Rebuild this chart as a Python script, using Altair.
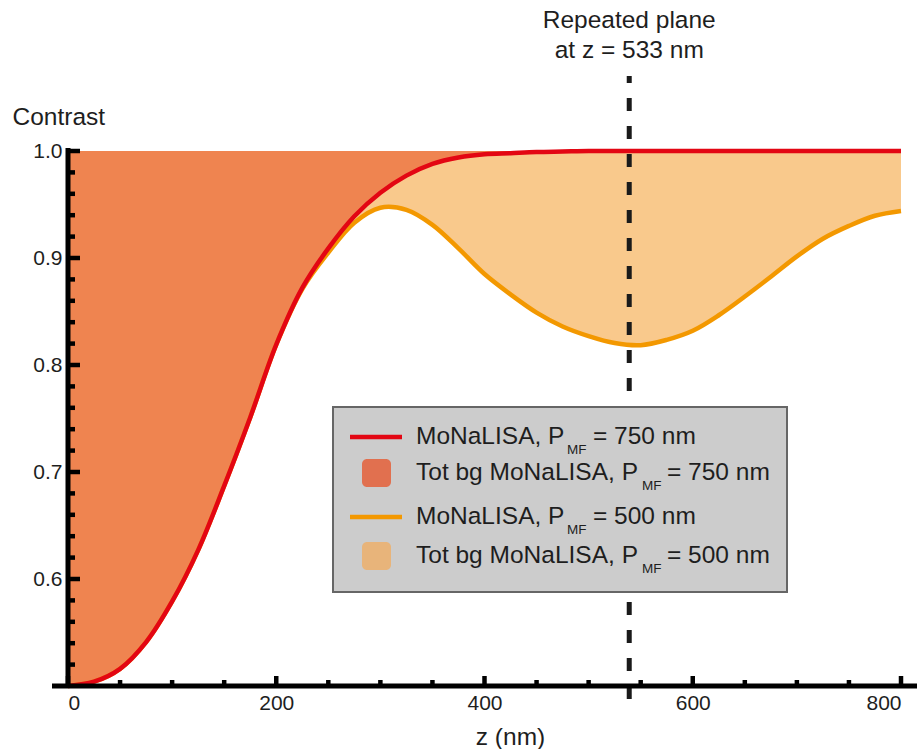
import altair as alt
import pandas as pd

# ---------------- data ----------------
z_nm = [0, 25, 50, 75, 100, 125, 150, 175, 200, 225, 250, 275, 300, 325, 350,
        375, 400, 425, 450, 475, 500, 525, 550, 575, 600, 625, 650, 675, 700,
        725, 750, 775, 800]
contrast_750 = [0.500, 0.504, 0.516, 0.541, 0.579, 0.627, 0.687, 0.751, 0.819,
                0.872, 0.909, 0.939, 0.961, 0.977, 0.988, 0.994, 0.997, 0.998,
                0.999, 0.9995, 1.0, 1.0, 1.0, 1.0, 1.0, 1.0, 1.0, 1.0, 1.0,
                1.0, 1.0, 1.0, 1.0]
contrast_500 = [0.500, 0.504, 0.516, 0.541, 0.579, 0.627, 0.687, 0.751, 0.819,
                0.871, 0.905, 0.933, 0.947, 0.945, 0.931, 0.909, 0.885, 0.866,
                0.849, 0.836, 0.827, 0.8205, 0.8185, 0.8235, 0.832, 0.8465,
                0.864, 0.8825, 0.9015, 0.918, 0.930, 0.9395, 0.944]

x_major_ticks = [0, 200, 400, 600, 800]
x_minor_ticks = [50, 100, 150, 250, 300, 350, 450, 500, 550, 650, 700, 750]
y_major_ticks = [0.6, 0.7, 0.8, 0.9, 1.0]
y_minor_ticks = [0.52, 0.54, 0.56, 0.58, 0.62, 0.64, 0.66, 0.68, 0.72, 0.74,
                 0.76, 0.78, 0.82, 0.84, 0.86, 0.88, 0.92, 0.94, 0.96, 0.98]

plane_z = [539]
plane_text = ["Repeated plane", "at z = 533 nm"]

legend_main = ["MoNaLISA, P", "Tot bg MoNaLISA, P", "MoNaLISA, P", "Tot bg MoNaLISA, P"]
legend_sub = ["MF", "MF", "MF", "MF"]
legend_tail = ["= 750 nm", "= 750 nm", "= 500 nm", "= 500 nm"]

# ---------------- styling ----------------
W, H = 833, 535
FONT = "Liberation Sans"
TXT = "#1e1e1e"
RED = "#E30613"
ORANGE = "#F39800"
DARK_FILL = "#EF8450"
LIGHT_FILL = "#F9C98C"

df = pd.DataFrame({"z": z_nm, "c750": contrast_750, "c500": contrast_500})
xs = alt.Scale(domain=[0, 800], nice=False)
ys = alt.Scale(domain=[0.5, 1.0], nice=False, zero=False)
one = alt.Data(values=[{}])

x_axis = alt.Axis(values=x_major_ticks, domain=False, ticks=False, tickSize=0,
                  grid=False, labelFontSize=21, labelFont=FONT, labelColor=TXT,
                  labelPadding=17, labelBaseline="middle",
                  title="z (nm)", titleFont=FONT, titleFontSize=24.5,
                  titleFontWeight="normal", titleColor=TXT,
                  titleX=442, titleY=51, titleAlign="center",
                  titleBaseline="middle", titleAnchor="middle")
y_axis = alt.Axis(values=y_major_ticks, format=".1f", domain=False, ticks=False,
                  tickSize=0, grid=False, labelFontSize=21, labelFont=FONT,
                  labelColor=TXT, labelPadding=6, labelBaseline="middle",
                  title="Contrast", titleFont=FONT, titleFontSize=24.5,
                  titleFontWeight="normal", titleColor=TXT, titleAngle=0,
                  titleX=-56, titleY=-34, titleAlign="left",
                  titleBaseline="middle")


def X(field):
    return alt.X(field, scale=xs, axis=x_axis)


def Y(field):
    return alt.Y(field, scale=ys, axis=y_axis)


base = alt.Chart(df)
light = base.mark_area(color=LIGHT_FILL, interpolate="catmull-rom").encode(
    x=X("z:Q"), y=Y("c500:Q"), y2=alt.datum(1.0))
dark = base.mark_area(color=DARK_FILL, interpolate="catmull-rom").encode(
    x=X("z:Q"), y=Y("c750:Q"), y2=alt.datum(1.0))
line500 = base.mark_line(color=ORANGE, strokeWidth=4.5, interpolate="catmull-rom").encode(
    x=X("z:Q"), y=Y("c500:Q"))
line750 = base.mark_line(color=RED, strokeWidth=4.5, interpolate="catmull-rom").encode(
    x=X("z:Q"), y=Y("c750:Q"))

plane_df = pd.DataFrame({"z": plane_z})
plane = alt.Chart(plane_df).mark_rule(color="#1A1A1A", strokeWidth=5,
                                      strokeDash=[13, 15], strokeDashOffset=6).encode(
    x=X("z:Q"), y=alt.value(-75), y2=alt.value(H + 24))
plane_lbl1 = alt.Chart(plane_df).mark_text(text=plane_text[0], font=FONT, fontSize=24.5,
                                           color=TXT, align="center", baseline="middle").encode(
    x=X("z:Q"), y=alt.value(-130))
plane_lbl2 = alt.Chart(plane_df).mark_text(text=plane_text[1], font=FONT, fontSize=24.5,
                                           color=TXT, align="center", baseline="middle").encode(
    x=X("z:Q"), y=alt.value(-100))

# axis lines and inward ticks
x_axis_line = alt.Chart(one).mark_rule(color="black", strokeWidth=5).encode(
    x=alt.value(-16), x2=alt.value(W + 16), y=alt.value(H))
y_axis_line = alt.Chart(one).mark_rule(color="black", strokeWidth=5).encode(
    y=alt.value(-3), y2=alt.value(H), x=alt.value(0))
xmaj = alt.Chart(pd.DataFrame({"z": x_major_ticks})).mark_rule(color="black", strokeWidth=4.5).encode(
    x=X("z:Q"), y=alt.value(H), y2=alt.value(H - 10))
xmin = alt.Chart(pd.DataFrame({"z": x_minor_ticks})).mark_rule(color="black", strokeWidth=4.5).encode(
    x=X("z:Q"), y=alt.value(H), y2=alt.value(H - 6))
ymaj = alt.Chart(pd.DataFrame({"c500": y_major_ticks})).mark_rule(color="black", strokeWidth=4.5).encode(
    y=Y("c500:Q"), x=alt.value(0), x2=alt.value(12))
ymin = alt.Chart(pd.DataFrame({"c500": y_minor_ticks})).mark_rule(color="black", strokeWidth=4.5).encode(
    y=Y("c500:Q"), x=alt.value(0), x2=alt.value(7))

# manual legend (needs subscripts)
legend_layers = [
    alt.Chart(one).mark_rect(fill="#CCCCCC", stroke="#666666", strokeWidth=2).encode(
        x=alt.value(265), x2=alt.value(719), y=alt.value(256), y2=alt.value(441))
]
row_y = [286, 322, 366, 405]
legend_layers.append(alt.Chart(one).mark_rule(color=RED, strokeWidth=4.5).encode(
    x=alt.value(282), x2=alt.value(334), y=alt.value(row_y[0])))
legend_layers.append(alt.Chart(one).mark_rule(color=ORANGE, strokeWidth=4.5).encode(
    x=alt.value(282), x2=alt.value(334), y=alt.value(row_y[2])))
legend_layers.append(alt.Chart(one).mark_rect(fill="#E1704F", cornerRadius=5).encode(
    x=alt.value(294), x2=alt.value(323), y=alt.value(row_y[1] - 14), y2=alt.value(row_y[1] + 14)))
legend_layers.append(alt.Chart(one).mark_rect(fill="#E8B47A", cornerRadius=5).encode(
    x=alt.value(294), x2=alt.value(323), y=alt.value(row_y[3] - 14), y2=alt.value(row_y[3] + 14)))

sub_x = [499, 574, 499, 574]
tail_x = [525, 599, 525, 599]
for i in range(4):
    legend_layers.append(alt.Chart(one).mark_text(
        text=legend_main[i], font=FONT, fontSize=24.5, color=TXT, align="left",
        baseline="middle").encode(x=alt.value(348), y=alt.value(row_y[i])))
    legend_layers.append(alt.Chart(one).mark_text(
        text=legend_sub[i], font=FONT, fontSize=13.5, color=TXT, align="left",
        baseline="middle").encode(x=alt.value(sub_x[i]), y=alt.value(row_y[i] + 13)))
    legend_layers.append(alt.Chart(one).mark_text(
        text=legend_tail[i], font=FONT, fontSize=24.5, color=TXT, align="left",
        baseline="middle").encode(x=alt.value(tail_x[i]), y=alt.value(row_y[i])))

chart = alt.layer(
    light, dark, line500, plane, line750, plane_lbl1, plane_lbl2,
    *legend_layers,
    x_axis_line, y_axis_line, xmaj, xmin, ymaj, ymin
).properties(
    width=W, height=H,
    autosize=alt.AutoSizeParams(type="none"),
    padding={"left": 68, "top": 151, "right": 21, "bottom": 63},
    background="white"
).configure_view(stroke=None)

chart.save("out.html", embed_options={"renderer": "svg", "actions": False})
